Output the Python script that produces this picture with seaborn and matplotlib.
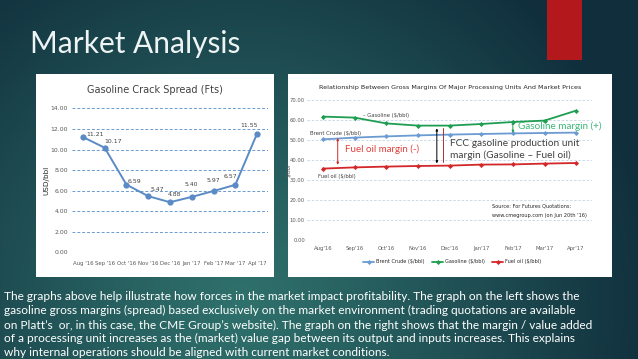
import numpy as np
import pandas as pd
import matplotlib
matplotlib.use('Agg')
import matplotlib.pyplot as plt
import seaborn as sns
from matplotlib import font_manager
from matplotlib.patches import Rectangle

# ---- data ----
months_left = ["Aug '16", "Sep '16", "Oct '16", "Nov '16", "Dec '16",
               "Jan '17", "Feb '17", "Mar '17", "Apl '17"]
crack_spread = [11.21, 10.17, 6.59, 5.47, 4.88, 5.40, 5.97, 6.57, 11.55]

months_right = ["Aug'16", "Sep'16", "Oct'16", "Nov'16", "Dec'16",
                "Jan'17", "Feb'17", "Mar'17", "Apr'17"]
brent = [50.3, 51.2, 51.8, 52.3, 52.7, 53.0, 53.3, 53.5, 53.7]
gasoline = [61.7, 61.2, 58.3, 57.2, 57.2, 58.0, 59.0, 59.7, 64.7]
fuel_oil = [35.7, 36.3, 36.7, 37.0, 37.2, 37.7, 37.8, 38.2, 38.5]
series_names = ["Brent Crude ($/bbl)", "Gasoline ($/bbl)", "Fuel oil ($/bbl)"]

body_lines = [
    "The graphs above help illustrate how forces in the market impact profitability. The graph on the left shows the",
    "gasoline gross margins (spread) based exclusively on the market environment (trading quotations are available",
    "on Platt\u2019s  or, in this case, the CME Group\u2019s website). The graph on the right shows that the margin / value added",
    "of a processing unit increases as the (market) value gap between its output and inputs increases. This explains",
    "why internal operations should be aligned with current market conditions.",
]

W, H = 638, 359

sns.set_theme(style='white')
installed = {f.name for f in font_manager.fontManager.ttflist}
slide_font = 'Lato' if 'Lato' in installed else 'DejaVu Sans'
plt.rcParams['font.family'] = ['DejaVu Sans']


def fx(x):
    return x / W


def fy(y):
    return 1 - y / H


fig = plt.figure(figsize=(W / 100, H / 100), dpi=100)

# slide background (radial teal gradient)
yy, xx = np.mgrid[0:H, 0:W]
t = np.clip(np.hypot(xx - 240, yy - 300) / 420, 0, 1) ** 1.1
light = np.array([0x2f, 0x71, 0x6c]) / 255
dark = np.array([0x10, 0x2e, 0x3c]) / 255
grad = light[None, None, :] * (1 - t[..., None]) + dark[None, None, :] * t[..., None]
bg = fig.add_axes([0, 0, 1, 1], zorder=-5)
bg.imshow(grad, aspect='auto', interpolation='bilinear')
bg.axis('off')

# white chart panels and the red tab
fig.add_artist(Rectangle((fx(36), fy(277)), fx(238), 203 / H, transform=fig.transFigure,
                         facecolor='white', edgecolor='none', zorder=-1))
fig.add_artist(Rectangle((fx(288), fy(277)), fx(324), 203 / H, transform=fig.transFigure,
                         facecolor='white', edgecolor='none', zorder=-1))
fig.add_artist(Rectangle((fx(547), fy(60)), fx(35), 60 / H, transform=fig.transFigure,
                         facecolor='#b3191c', edgecolor='none', zorder=-1))

fig.text(fx(30), fy(53), 'Market Analysis', fontsize=21.5, color='#eef4f4',
         family=slide_font, va='baseline', ha='left')

# ---- left chart ----
axL = fig.add_axes([fx(72), fy(252.5), fx(196), 144.2 / H])
axL.set_facecolor('none')
df_left = pd.DataFrame({'month': months_left, 'spread': crack_spread})
sns.lineplot(data=df_left, x='month', y='spread', ax=axL, sort=False, color='#5b8bc6',
             marker='o', markersize=4.5, markeredgewidth=0, linewidth=1.4)
axL.set_xlim(-0.5, 8.5)
axL.set_ylim(0, 14)
axL.set_yticks(np.arange(0, 15, 2))
axL.set_yticklabels([f'{v:.2f}' for v in np.arange(0, 15, 2)])
axL.yaxis.grid(True, linestyle=(0, (3, 2)), color='#6d9bd0', linewidth=0.7)
axL.set_axisbelow(True)
for s in axL.spines.values():
    s.set_visible(False)
axL.tick_params(axis='y', length=0, labelsize=4.4, colors='#595959', pad=3)
axL.tick_params(axis='x', length=0, labelsize=3.9, colors='#595959', pad=6)
axL.set_xlabel('')
axL.set_ylabel('USD/bbl', fontsize=5.2, color='#262626')
axL.yaxis.set_label_coords(-0.117, 0.5)

label_offsets = [(12, 3), (8, 6), (8, 3), (9, 7), (5, 8), (0, 12), (0, 11), (-5, 8.5), (-8, 8)]
for i, (v, off) in enumerate(zip(crack_spread, label_offsets)):
    axL.annotate(f'{v:.2f}', (i, v), xytext=off, textcoords='offset pixels',
                 ha='center', va='center', fontsize=4.4, color='#404040')

fig.text(fx(155), fy(90), 'Gasoline Crack Spread (Fts)', ha='center', va='center',
         fontsize=7, color='#404040')

# ---- right chart ----
axR = fig.add_axes([fx(307), fy(240), fx(285), 140 / H])
axR.set_facecolor('none')
df_right = pd.DataFrame({
    'month': months_right * 3,
    'price': brent + gasoline + fuel_oil,
    'series': np.repeat(series_names, len(months_right)),
})
palette = dict(zip(series_names, ['#6b9bd2', '#1f9e52', '#d3282a']))
sns.lineplot(data=df_right, x='month', y='price', hue='series', palette=palette, ax=axR,
             sort=False, marker='D', markersize=2.6, markeredgewidth=0, linewidth=1.3)
axR.set_xlim(-0.5, 8.5)
axR.set_ylim(0, 70)
axR.set_yticks(np.arange(0, 71, 10))
axR.set_yticklabels([f'{v:.2f}' for v in np.arange(0, 71, 10)])
axR.yaxis.grid(True, linestyle=(0, (3, 2)), color='#c3d4e6', linewidth=0.6)
axR.set_axisbelow(True)
for s in axR.spines.values():
    s.set_visible(False)
axR.tick_params(axis='y', length=0, labelsize=3.8, colors='#595959', pad=1.5)
axR.tick_params(axis='x', length=0, labelsize=3.8, colors='#595959', pad=4)
axR.set_xlabel('')
axR.set_ylabel('$/bbl', fontsize=3.8, color='#595959')
axR.yaxis.set_label_coords(-0.055, 0.5)
axR.legend(loc='center', bbox_to_anchor=(0.51, -0.157), ncol=3, frameon=False,
           fontsize=3.6, handlelength=2.2, columnspacing=1.5, handletextpad=0.4)

fig.text(fx(450), fy(87), 'Relationship Between Gross Margins Of Major Processing Units And Market Prices',
         ha='center', va='center', fontsize=4.6, color='#262626')

# series captions on the plot
axR.text(1.27, 62.5, '\u2013 Gasoline ($/bbl)', fontsize=3.8, color='#404040', va='center')
axR.text(-0.42, 53.5, 'Brent Crude ($/bbl)', fontsize=3.8, color='#404040', va='center')
axR.text(-0.16, 31.7, 'Fuel oil ($/bbl)', fontsize=3.8, color='#404040', va='center')

# margin annotations
axR.annotate('', xy=(0.47, 37.6), xytext=(0.47, 51.0),
             arrowprops=dict(arrowstyle='<|-|>', color='#d3282a', lw=0.7,
                             mutation_scale=3, shrinkA=0, shrinkB=0))
axR.text(0.7, 45.5, 'Fuel oil margin (-)', fontsize=7, color='#e0403c', va='center',
         family=slide_font)
axR.annotate('', xy=(3.6, 38.3), xytext=(3.6, 55.8),
             arrowprops=dict(arrowstyle='<|-|>', color='black', lw=0.7,
                             mutation_scale=3, shrinkA=0, shrinkB=0))
axR.plot([3.8, 3.8], [39.0, 56.0], color='#b03030', lw=0.7)
axR.text(4.0, 48.5, 'FCC gasoline production unit', fontsize=7.3, color='#404040',
         va='center', family=slide_font)
axR.text(4.0, 42.5, 'margin (Gasoline \u2013 Fuel oil)', fontsize=7.3, color='#404040',
         va='center', family=slide_font)
axR.annotate('', xy=(6.0, 53.6), xytext=(6.0, 59.2),
             arrowprops=dict(arrowstyle='<|-|>', color='#1f9e52', lw=0.7,
                             mutation_scale=3, shrinkA=0, shrinkB=0))
axR.text(6.15, 57.0, 'Gasoline margin (+)', fontsize=7.1, color='#3cb878', va='center',
         family=slide_font, clip_on=False)

axR.text(5.35, 17.0, 'Source: For Futures Quotations:', fontsize=3.6, color='#262626', va='center')
axR.text(5.35, 12.0, "www.cmegroup.com (on Jun 20th '16)", fontsize=3.6, color='#262626', va='center')

# ---- body text ----
for y, line in zip([296.6, 310.8, 325.0, 338.5, 352.7], body_lines):
    fig.text(fx(4), fy(y), line, fontsize=8.6, color='white', family=slide_font,
             ha='left', va='center')

fig.savefig('out.png', dpi=100)
